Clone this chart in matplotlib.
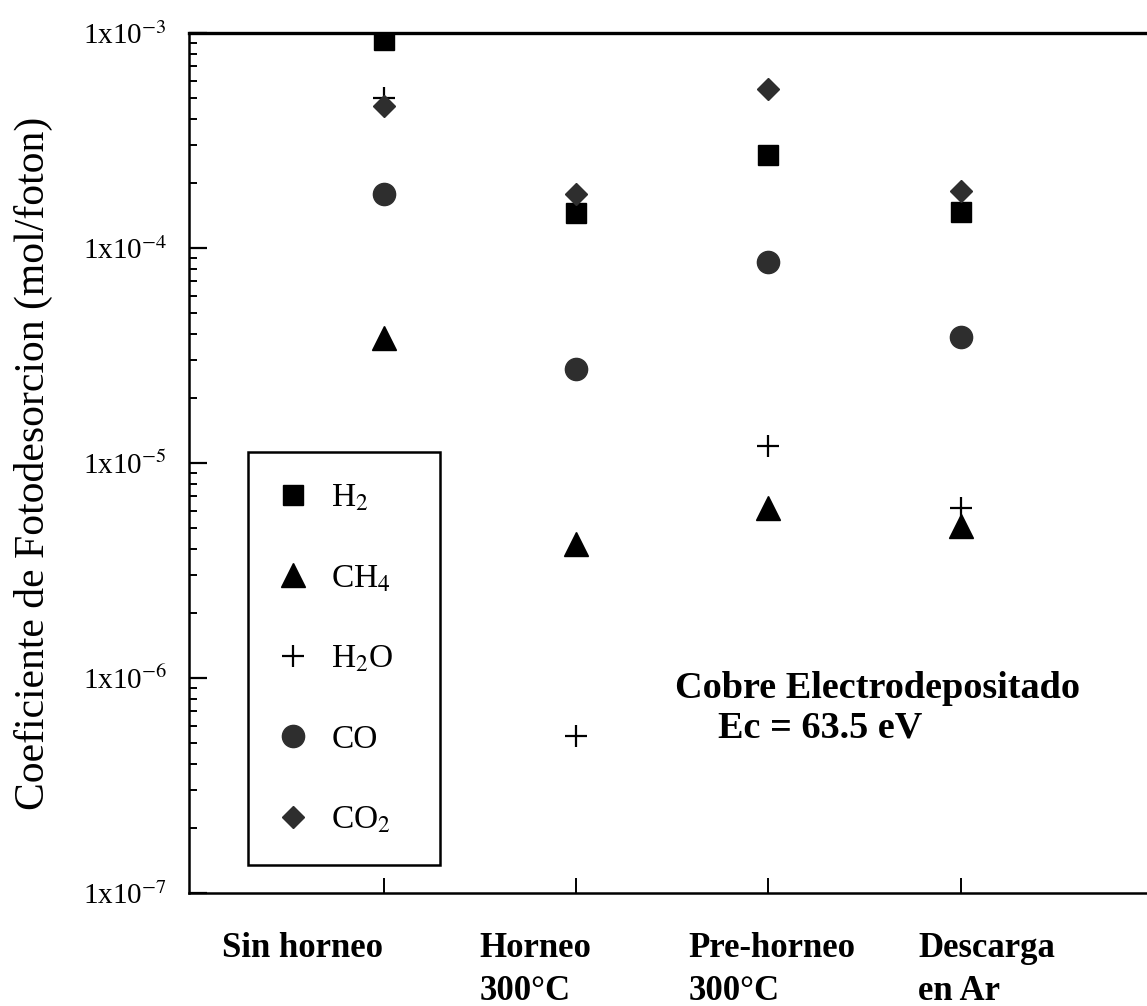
import matplotlib
matplotlib.use("Agg")
import matplotlib.pyplot as plt
from matplotlib.patches import Rectangle
from matplotlib.ticker import LogLocator, FixedLocator, NullFormatter
import matplotlib.transforms as mtransforms

plt.rcParams["font.family"] = ["Liberation Serif", "DejaVu Serif"]
plt.rcParams["mathtext.fontset"] = "stix"

# Tratamientos de la superficie (eje x)
tratamientos = ["Sin horneo", "Horneo\n300°C", "Pre-horneo\n300°C", "Descarga\nen Ar"]

# Coeficientes de fotodesorcion (mol/foton) por gas
h2 = [9.3e-4, 1.45e-4, 2.7e-4, 1.47e-4]
ch4 = [3.8e-5, 4.2e-6, 6.2e-6, 5.1e-6]
h2o = [5.0e-4, 5.4e-7, 1.2e-5, 6.2e-6]
co = [1.78e-4, 2.75e-5, 8.6e-5, 3.85e-5]
co2 = [4.6e-4, 1.78e-4, 5.5e-4, 1.85e-4]

etiquetas = ["H$_2$", "CH$_4$", "H$_2$O", "CO", "CO$_2$"]

fig = plt.figure(figsize=(11.47, 10.06), dpi=100)
ax = fig.add_axes([0.1648, 0.1123, 0.8352, 0.8549])
ax.set_yscale("log")

x = list(range(len(tratamientos)))
gris = "#2e2e2e"
series = [
    (h2, dict(marker="s", ms=15, color="black")),
    (ch4, dict(marker="^", ms=17, color="black")),
    (h2o, dict(marker="+", ms=16, mew=1.6, color="black")),
    (co, dict(marker="o", ms=16, color=gris)),
    (co2, dict(marker="D", ms=11, color=gris)),
]
handles = []
for vals, estilo in series:
    h, = ax.plot(x, vals, linestyle="none", **estilo)
    handles.append(h)

ax.set_xlim(-1.016, 3.97)
ax.set_ylim(1e-7, 1e-3)

# Ejes: sin borde derecho
ax.spines["right"].set_visible(False)
for s in ("left", "bottom"):
    ax.spines[s].set_linewidth(1.8)
ax.spines["top"].set_linewidth(2.4)

ax.yaxis.set_major_locator(FixedLocator([1e-7, 1e-6, 1e-5, 1e-4, 1e-3]))
ax.yaxis.set_minor_locator(LogLocator(base=10, subs=range(2, 10)))
ax.yaxis.set_minor_formatter(NullFormatter())
ax.set_yticklabels(["1x10$^{-7}$", "1x10$^{-6}$", "1x10$^{-5}$",
                    "1x10$^{-4}$", "1x10$^{-3}$"])
ax.tick_params(axis="y", which="major", direction="in", length=13, width=1.6,
               pad=16, labelsize=21)
ax.tick_params(axis="y", which="minor", direction="in", length=6, width=1.4)
ax.tick_params(axis="x", direction="in", length=11, width=1.4, labelbottom=False)
ax.set_xticks(x)

# Etiquetas de categoria, alineadas a la izquierda bajo cada marca
etiqueta_x = [-0.844, -0.505, -0.417, -0.22]
trans = mtransforms.blended_transform_factory(ax.transData, ax.transAxes)
for xi, dx, txt in zip(x, etiqueta_x, tratamientos):
    ax.text(xi + dx, -0.045, txt, transform=trans, ha="left", va="top",
            fontsize=25, fontweight="bold", linespacing=1.4)

ax.set_ylabel("Coeficiente de Fotodesorcion (mol/foton)", fontsize=30)
ax.yaxis.set_label_coords(-0.142, 0.5)

ax.text(0.507, 0.2267, "Cobre Electrodepositado", transform=ax.transAxes,
        fontsize=27.5, fontweight="bold", va="baseline")
ax.text(0.552, 0.1814, "Ec = 63.5 eV", transform=ax.transAxes,
        fontsize=27.5, fontweight="bold", va="baseline")

# Leyenda con marco dibujado aparte
leg = ax.legend(handles, etiquetas, loc="upper left",
                bbox_to_anchor=(0.070, 0.496), frameon=False, fontsize=24,
                labelspacing=1.5, handlelength=1.2, handletextpad=0.56,
                borderpad=0, numpoints=1)
ax.add_patch(Rectangle((0.0616, 0.0326), 0.2, 0.48, transform=ax.transAxes,
                       fill=False, linewidth=1.8, edgecolor="black",
                       clip_on=False))

fig.savefig("out.png", dpi=100)
